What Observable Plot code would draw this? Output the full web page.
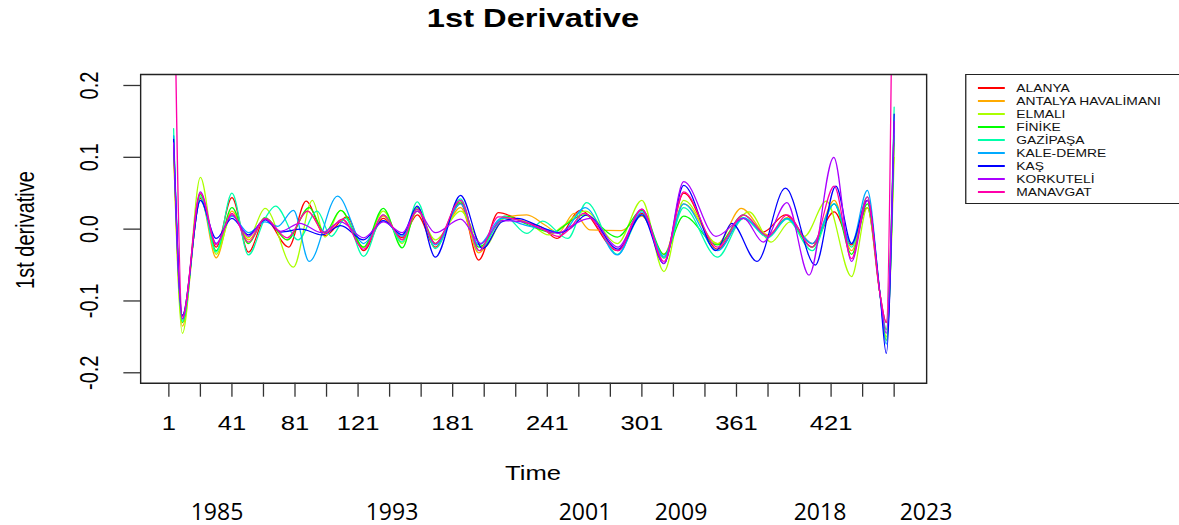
<!DOCTYPE html>
<html>
<head>
<meta charset="utf-8">
<script src="https://cdn.jsdelivr.net/npm/d3@7"></script>
<script src="https://cdn.jsdelivr.net/npm/@observablehq/plot@0.6"></script>
<style>
html,body{margin:0;padding:0;background:#fff;}
#page{position:relative;width:1179px;height:525px;overflow:hidden;background:#fff;font-family:"Liberation Sans",Arial,Helvetica,sans-serif;color:#000;}
#chart{position:absolute;left:0;top:0;}
#chart svg *{vector-effect:non-scaling-stroke;}
#overlay{position:absolute;left:0;top:0;height:525px;transform-origin:0 0;}
.t{position:absolute;left:0;top:0;white-space:nowrap;transform-origin:0 0;line-height:1;}
#legend{position:absolute;border:1px solid #222;background:#fff;}
#legend .sw{position:absolute;height:2px;}
#legend .lb{position:absolute;line-height:1;transform:translateY(-50%);white-space:nowrap;color:#111;}
.yr{position:absolute;top:0;left:0;white-space:nowrap;font-family:"Open Sans","Noto Sans",sans-serif;line-height:1;}
</style>
</head>
<body>
<div id="page">
  <div id="chart"></div>
  <div id="overlay"></div>
  <div id="years"></div>
</div>
<script>
// ---------------- data ----------------
const stations = ["ALANYA","ANTALYA HAVALİMANI","ELMALI","FİNİKE","GAZİPAŞA","KALE-DEMRE","KAŞ","KORKUTELİ","MANAVGAT"];
const colors = ["#FF0000","#FFAA00","#AAFF00","#00FF00","#00FFAA","#00AAFF","#0000FF","#AA00FF","#FF00AA"];

// [time index, 1st derivative]
const alanya = [[4,0.12],[9.6,-0.125],[21,0.043],[31,-0.025],[41,0.044],[51.5,-0.032],[62,0.014],[77,-0.025],[88,0.039],[100,-0.009],[114,0.017],[124.5,-0.03],[137,0.015],[149,-0.012],[158.5,0.02],[170,-0.025],[186,0.036],[197.5,-0.043],[210,0.023],[226,0.01],[238,0.002],[247,-0.013],[262,0.026],[285.5,-0.03],[301,0.022],[315,-0.04],[327.5,0.05],[349,-0.028],[365.5,0.015],[378,-0.004],[392,0.02],[409,-0.02],[423,0.024],[434,-0.022],[444,0.03],[452,-0.09],[456,-0.13],[461,0.15]];
const antalya = [[4,0.11],[9.6,-0.135],[21,0.045],[31,-0.04],[41,0.025],[51.5,-0.015],[62,0.016],[76,-0.015],[89,0.025],[100,-0.006],[111,0.013],[124.5,-0.025],[137,0.018],[149,-0.015],[158.5,0.025],[170,-0.02],[186,0.03],[197.5,-0.033],[212,0.015],[228,0.02],[240,0.005],[248,-0.005],[258,0.022],[268,-0.001],[288,-0.002],[301,0.018],[315,-0.035],[327.5,0.035],[349,-0.02],[364,0.029],[381,-0.008],[393,0.016],[409,-0.025],[423,0.04],[434,-0.03],[444,0.04],[452,-0.09],[456,-0.14],[461,0.12]];
const elmali = [[4,0.11],[9.6,-0.145],[21,0.072],[31,-0.035],[41,0.02],[51.5,-0.012],[62,0.029],[80,-0.053],[92,0.04],[100,-0.011],[110,0.026],[124.5,-0.025],[137,0.025],[149,-0.02],[158.5,0.025],[170,-0.015],[186,0.025],[201,-0.025],[214,0.015],[228,0.01],[242,-0.008],[250,0.003],[265,0.025],[285.5,-0.02],[301,0.04],[315,-0.059],[327.5,0.04],[349,-0.02],[369,0.024],[383,-0.018],[395,0.01],[404,-0.01],[418,0.039],[434,-0.066],[444,0.03],[452,-0.09],[456,-0.15],[461,0.1]];
const finike = [[4,0.13],[9.6,-0.13],[21,0.048],[31,-0.03],[41,0.03],[51.5,-0.02],[62,0.016],[76,-0.015],[90,0.03],[100,-0.005],[110,0.026],[124.5,-0.025],[137,0.029],[149,-0.026],[158.5,0.03],[170,-0.02],[186,0.038],[197.5,-0.025],[215,0.018],[230,0.005],[245,-0.005],[252,0.005],[264,0.02],[285.5,-0.011],[301,0.026],[315,-0.035],[327.5,0.018],[349,-0.022],[365.5,0.02],[381,-0.01],[393,0.015],[409,-0.025],[423,0.035],[434,-0.035],[444,0.035],[452,-0.09],[456,-0.155],[461,0.13]];
const gazipasa = [[4,0.14],[9.6,-0.128],[21,0.045],[31,-0.032],[41,0.05],[51.5,-0.036],[62,0.015],[68.7,0.032],[83,-0.015],[95,0.025],[104,-0.01],[113,0.015],[124.5,-0.038],[137,0.02],[149,-0.018],[158.5,0.038],[170,-0.027],[186,0.042],[197.5,-0.03],[214,0.018],[228,-0.006],[238,0.011],[254,-0.013],[266,0.037],[285.5,-0.035],[301,0.02],[315,-0.04],[327.5,0.03],[349,-0.039],[365.5,0.015],[381,-0.012],[393,0.014],[409,-0.03],[423,0.035],[434,-0.025],[444,0.045],[452,-0.09],[456,-0.14],[461,0.17]];
const kaleDemre = [[4,0.13],[9.6,-0.12],[21,0.04],[31,-0.02],[41,0.018],[51.5,-0.005],[62,0.01],[70,0.004],[80,0.026],[90,-0.045],[108,0.046],[124.5,-0.02],[137,0.012],[149,-0.01],[158.5,0.028],[170,-0.022],[186,0.035],[197.5,-0.022],[212,0.015],[228,0.005],[240,0.0],[250,-0.005],[265,0.03],[285.5,-0.036],[301,0.024],[315,-0.038],[327.5,0.035],[349,-0.03],[365.5,0.016],[381,-0.01],[393,0.015],[409,-0.02],[423,0.035],[434,-0.02],[444,0.054],[452,-0.09],[456,-0.16],[461,0.14]];
const kas = [[4,0.125],[9.6,-0.12],[21,0.04],[31,-0.013],[41,0.015],[51.5,-0.008],[62,0.013],[72,-0.004],[85,0.0],[98,-0.008],[110,0.005],[124.5,-0.015],[137,0.012],[149,-0.008],[158.5,0.032],[170,-0.039],[186,0.047],[200,-0.027],[212,0.01],[222,0.015],[235,0.005],[248,-0.005],[255,0.0],[266,0.02],[286,-0.028],[301,0.02],[315,-0.048],[327.5,0.061],[348,-0.03],[358,0.008],[374,-0.045],[392,0.057],[411,-0.05],[424,0.06],[434,-0.02],[444,0.04],[452,-0.09],[456,-0.173],[461,0.16]];
const korkuteli = [[4,0.12],[9.6,-0.125],[21,0.052],[31,-0.02],[41,0.02],[51.5,-0.01],[62,0.014],[72,-0.003],[84,0.008],[98,-0.005],[110,0.01],[124.5,-0.012],[137,0.01],[149,-0.005],[158.5,0.025],[170,-0.005],[186,0.014],[199,-0.02],[212,0.012],[225,0.01],[238,0.0],[248,-0.006],[255,0.003],[268,0.015],[286,-0.025],[301,0.028],[315,-0.048],[327.5,0.066],[348,-0.01],[365.5,0.015],[378,-0.018],[393,0.037],[407,-0.064],[422.7,0.1],[434,-0.045],[444,0.04],[452,-0.09],[456,-0.145],[461,0.15]];
const manavgat = [[3,0.6],[9.6,-0.122],[21,0.05],[31,-0.022],[41,0.022],[51.5,-0.018],[62,0.015],[76,-0.012],[89,0.025],[100,-0.006],[111,0.014],[124.5,-0.028],[137,0.02],[149,-0.015],[158.5,0.028],[170,-0.02],[186,0.04],[198,-0.03],[210,0.017],[224,0.012],[238,0.0],[248,-0.01],[255,0.0],[264,0.022],[286,-0.03],[301,0.028],[315,-0.045],[327.5,0.052],[349,-0.025],[365.5,0.02],[381,-0.01],[393,0.02],[409,-0.025],[423,0.06],[434,-0.041],[444,0.045],[452,-0.09],[456,-0.13],[461,0.6]];
const series = [alanya, antalya, elmali, finike, gazipasa, kaleDemre, kas, korkuteli, manavgat];

const xTicks = [1,21,41,61,81,101,121,141,161,181,201,221,241,261,281,301,321,341,361,381,401,421,441,461];
const xTickLabels = [1,41,81,121,181,241,301,361,421];
const yTicks = [-0.2,-0.1,0,0.1,0.2];
const yTickLabels = ["-0.2","-0.1","0.0","0.1","0.2"];
const yearLabels = ["1985","1993","2001","2009","2018","2023"];

const titleText = "1st Derivative";
const yTitle = "1st derivative";
const xTitle = "Time";

// ---------------- layout ----------------
const S = 1.28;               // horizontal stretch of the source picture
const W = 1179, H = 440;
const IW = W / S;
const frameL = 140, frameR = 926, frameT = 74, frameB = 382.7;
const yearX = [217, 392, 585, 681, 820, 926];

const rows = [];
stations.forEach((name, i) => series[i].forEach(([t, v]) => rows.push({station: name, t, v})));

const plot = Plot.plot({
  width: IW, height: H,
  marginLeft: frameL / S, marginRight: IW - frameR / S, marginTop: frameT, marginBottom: H - frameB,
  x: {domain: [-16.9, 481.6], axis: null},
  y: {domain: [-0.2145, 0.2153], axis: null},
  color: {domain: stations, range: colors},
  style: {fontFamily: "'Liberation Sans', Arial, Helvetica, sans-serif", fontSize: "20px", color: "#000", background: "transparent", overflow: "visible"},
  marks: [
    Plot.line(rows, {x: "t", y: "v", z: "station", stroke: "station", curve: "monotone-x", strokeWidth: 1.25, clip: true}),
    Plot.frame({stroke: "#222", strokeWidth: 1.4}),
    Plot.axisX(xTicks, {tickSize: 14, tickFormat: () => "", label: null, stroke: "#333", strokeWidth: 1.3}),
    Plot.axisY(yTicks, {tickSize: 13, tickFormat: () => "", label: null, stroke: "#333", strokeWidth: 1.3}),
    Plot.text(xTickLabels, {x: d => d, text: d => String(d), frameAnchor: "bottom", dy: 40, lineAnchor: "middle", fill: "#000", fontSize: 20}),
    Plot.text(yTicks, {y: d => d, text: (d, i) => yTickLabels[i], frameAnchor: "left", dx: -40, rotate: -90, textAnchor: "middle", lineAnchor: "middle", fill: "#000", fontSize: 20})
  ]
});
plot.setAttribute("width", W);
plot.setAttribute("height", H);
plot.setAttribute("viewBox", `0 0 ${IW} ${H}`);
plot.setAttribute("preserveAspectRatio", "none");
plot.style.width = W + "px";
plot.style.height = H + "px";
plot.style.maxWidth = "none";
document.getElementById("chart").appendChild(plot);

// overlay in the stretched coordinate system
const ov = document.getElementById("overlay");
ov.style.width = IW + "px";
ov.style.transform = `scaleX(${S})`;

function label(text, cx, cy, size, weight, rot) {
  const d = document.createElement("div");
  d.className = "t";
  d.textContent = text;
  d.style.fontSize = size + "px";
  d.style.fontWeight = weight;
  d.style.transform = `translate(${cx / S}px, ${cy}px) ${rot ? "rotate(-90deg) " : ""}translate(-50%, -50%)`;
  ov.appendChild(d);
}
label(titleText, 533, 19, 25.5, "bold", false);
label(yTitle, 25, 230, 20, "normal", true);
label(xTitle, 533, 473, 20, "normal", false);

// legend
const lg = document.createElement("div");
lg.id = "legend";
lg.style.left = (965 / S) + "px";
lg.style.top = "74px";
lg.style.width = "190px";
lg.style.height = "128px";
stations.forEach((name, i) => {
  const cy = 13.3 + 12.93 * i;
  const sw = document.createElement("div");
  sw.className = "sw";
  sw.style.left = (11.7 / S) + "px";
  sw.style.width = (26.6 / S) + "px";
  sw.style.top = Math.round(cy - 1) + "px";
  sw.style.backgroundColor = colors[i];
  const lb = document.createElement("div");
  lb.className = "lb";
  lb.style.left = (50 / S) + "px";
  lb.style.top = cy + "px";
  lb.style.fontSize = "10.8px";
  lb.textContent = name;
  lg.appendChild(sw);
  lg.appendChild(lb);
});
ov.appendChild(lg);

// years row (unstretched annotation)
const yr = document.getElementById("years");
yearLabels.forEach((y, i) => {
  const d = document.createElement("div");
  d.className = "yr";
  d.textContent = y;
  d.style.fontSize = "23px";
  d.style.transform = `translate(${yearX[i]}px, 511px) translate(-50%, -50%)`;
  yr.appendChild(d);
});
</script>
</body>
</html>
